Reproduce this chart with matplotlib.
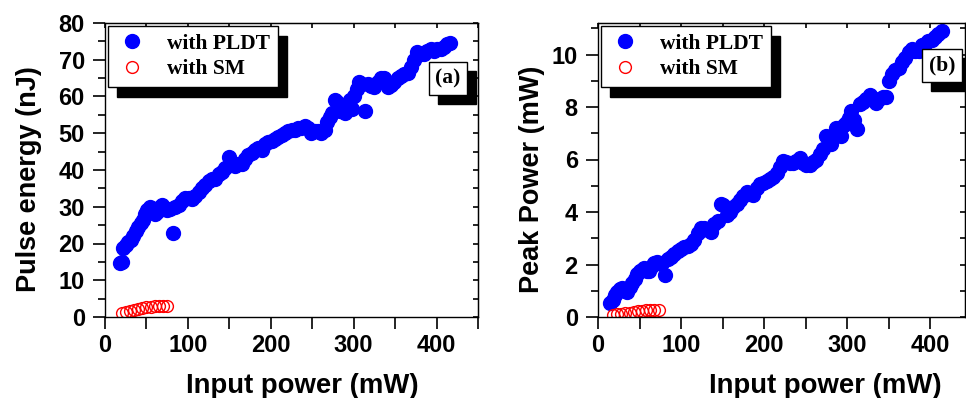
import matplotlib
matplotlib.use("Agg")
import matplotlib.pyplot as plt
from matplotlib.patches import Rectangle
from matplotlib.ticker import MultipleLocator

# 数据
pldt_x_a = [18, 21, 22, 25, 28, 31, 34, 37, 40, 43, 46, 48, 51, 54, 57, 60, 63, 66, 69, 72,
            75, 78, 82, 85, 89, 93, 97, 101, 105, 109, 113, 117, 121, 125, 129, 133, 137, 141,
            145, 150, 153, 157, 161, 165, 169, 173, 177, 181, 185, 189, 193, 197, 201, 205, 209,
            213, 217, 221, 225, 229, 233, 237, 241, 245, 249, 253, 257, 261, 265, 268, 271, 274,
            277, 280, 283, 286, 289, 292, 295, 298, 301, 304, 307, 310, 314, 317, 321, 325, 329,
            333, 337, 341, 345, 349, 353, 357, 361, 365, 369, 373, 377, 381, 385, 389, 393, 397,
            401, 405, 409, 413, 416]
pldt_y_a = [14.8, 15.0, 18.8, 19.5, 20.5, 21.0, 22.0, 23.5, 24.5, 25.5, 26.5, 28.0, 29.0, 29.8,
            29.5, 28.0, 28.5, 30.0, 30.5, 29.5, 29.0, 29.5, 22.8, 29.8, 30.5, 31.5, 32.5, 32.3,
            32.0, 33.0, 34.0, 35.0, 36.0, 37.0, 37.5, 37.5, 38.8, 39.5, 40.5, 43.5, 42.0, 41.0,
            41.5, 41.5, 43.0, 44.0, 44.5, 45.5, 46.0, 45.5, 47.0, 47.5, 48.0, 48.3, 49.0, 49.5,
            50.0, 50.5, 50.8, 51.0, 51.3, 51.5, 52.0, 51.5, 50.0, 50.5, 50.5, 50.0, 51.0, 53.0,
            54.5, 55.5, 59.0, 58.5, 56.0, 56.0, 55.5, 58.0, 59.0, 56.5, 60.0, 62.0, 64.0, 63.5,
            56.0, 63.5, 62.8, 62.5, 64.0, 65.0, 65.0, 62.5, 63.0, 64.0, 65.0, 65.5, 66.0, 66.5,
            68.0, 70.0, 72.0, 71.5, 71.5, 72.5, 73.0, 72.5, 72.8, 73.0, 73.5, 74.3, 74.5]

sm_x_a = [20, 25, 30, 35, 40, 45, 50, 55, 60, 65, 70, 75]
sm_y_a = [1.0, 1.4, 1.7, 2.0, 2.3, 2.5, 2.7, 2.8, 2.9, 3.0, 3.0, 3.0]

pldt_x_b = [15, 18, 20, 23, 26, 29, 32, 35, 38, 41, 44, 47, 50, 53, 56, 59, 62, 65, 68, 71, 74,
            77, 81, 84, 88, 92, 96, 100, 104, 108, 112, 116, 120, 124, 128, 132, 136, 140, 144,
            148, 151, 155, 159, 163, 167, 171, 175, 179, 183, 187, 191, 195, 199, 203, 207, 211,
            215, 219, 223, 227, 231, 235, 239, 243, 247, 251, 255, 259, 263, 267, 271, 275, 278,
            281, 284, 287, 290, 293, 296, 299, 302, 305, 308, 312, 315, 319, 323, 327, 331, 335,
            339, 343, 347, 350, 354, 358, 362, 366, 370, 374, 378, 382, 386, 390, 394, 398, 402,
            406, 410, 414]
pldt_y_b = [0.55, 0.65, 0.85, 0.95, 1.05, 1.1, 1.0, 0.95, 1.15, 1.3, 1.45, 1.65, 1.75, 1.8, 1.85,
            1.75, 1.75, 1.95, 2.05, 2.1, 2.05, 2.05, 1.6, 2.2, 2.3, 2.4, 2.5, 2.6, 2.65, 2.7, 2.8,
            2.95, 3.2, 3.4, 3.4, 3.3, 3.25, 3.55, 3.65, 4.3, 4.25, 3.9, 4.0, 4.2, 4.3, 4.45, 4.6,
            4.75, 4.7, 4.65, 4.9, 5.05, 5.1, 5.2, 5.25, 5.35, 5.5, 5.7, 5.95, 5.9, 5.85, 5.85,
            5.95, 6.05, 5.85, 5.8, 5.8, 5.9, 6.0, 6.2, 6.4, 6.9, 6.7, 6.6, 6.9, 7.2, 7.1, 6.9,
            7.3, 7.4, 7.6, 7.85, 7.5, 7.15, 8.1, 8.2, 8.3, 8.45, 8.3, 8.15, 8.3, 8.4, 8.4, 9.0,
            9.25, 9.4, 9.5, 9.7, 9.85, 10.1, 10.2, 10.15, 10.15, 10.35, 10.4, 10.5, 10.55, 10.65,
            10.8, 10.9]

sm_x_b = [18, 23, 28, 33, 38, 43, 48, 53, 58, 63, 68, 73]
sm_y_b = [0.08, 0.1, 0.12, 0.15, 0.17, 0.19, 0.21, 0.23, 0.25, 0.26, 0.27, 0.28]

labels = ["with PLDT", "with SM"]
xlabel = "Input power (mW)"
ylabels = ["Pulse energy (nJ)", "Peak Power (mW)"]
tags = ["(a)", "(b)"]

W, H = 966, 398
fig = plt.figure(figsize=(W / 100, H / 100), dpi=100)

sans = "Liberation Sans"
serif = "Liberation Serif"
tag_texts = []


# 像素 -> 图坐标
def px_axes(x0, y0, x1, y1):
    return [x0 / W, 1 - y1 / H, (x1 - x0) / W, (y1 - y0) / H]


def setup(ax, xmax, ymax, ymaj, ymin, ylab, tag, tagpos, xlab_x, ylab_x):
    ax.set_xlim(0, xmax)
    ax.set_ylim(0, ymax)
    ax.xaxis.set_major_locator(MultipleLocator(100))
    ax.xaxis.set_minor_locator(MultipleLocator(50))
    ax.yaxis.set_major_locator(MultipleLocator(ymaj))
    ax.yaxis.set_minor_locator(MultipleLocator(ymin))
    ax.tick_params(axis="x", which="both", direction="out", length=8.5, width=1.2, pad=4)
    ax.tick_params(axis="y", which="major", direction="out", length=8.5, width=1.2, pad=6)
    ax.tick_params(axis="y", which="minor", direction="out", length=5, width=1.2)
    for lab in ax.get_xticklabels() + ax.get_yticklabels():
        lab.set_fontfamily(sans)
        lab.set_fontweight("bold")
        lab.set_fontsize(17)
    for sp in ax.spines.values():
        sp.set_linewidth(1.0)
    # 上、右两边的内向短刻度
    top = ax.secondary_xaxis("top")
    top.xaxis.set_major_locator(MultipleLocator(50))
    top.tick_params(direction="in", length=3.5, width=1.2, labeltop=False)
    right = ax.secondary_yaxis("right")
    right.yaxis.set_major_locator(MultipleLocator(ymin))
    right.tick_params(direction="in", length=3.5, width=1.2, labelright=False)

    ax.set_ylabel(ylab, fontfamily=sans, fontweight="bold", fontsize=19.5)
    ax.set_xlabel(xlabel, fontfamily=sans, fontweight="bold", fontsize=19.8)
    ax.xaxis.set_label_coords(xlab_x, -0.19)
    ax.yaxis.set_label_coords(ylab_x, 0.47)

    leg = ax.legend(loc="upper left", bbox_to_anchor=(0.0, 1.0), borderaxespad=0.15,
                    numpoints=1, frameon=True, fancybox=False, edgecolor="black",
                    handletextpad=0.9, handlelength=1.5, labelspacing=0.25,
                    borderpad=0.35, prop={"family": serif, "weight": "bold", "size": 15.5},
                    shadow={"color": "black", "alpha": 1, "ox": 6.5, "oy": -7.2})
    leg.get_frame().set_linewidth(1.0)

    t = ax.text(tagpos[0], tagpos[1], tag, transform=ax.transAxes, ha="center", va="center",
                fontfamily=serif, fontweight="bold", fontsize=15.5, color="black",
                bbox=dict(boxstyle="square,pad=0.3", fc="white", ec="black", lw=1.0),
                zorder=6)
    tag_texts.append((ax, t))


ax1 = fig.add_axes(px_axes(105, 23, 478, 317))
ax1.plot(pldt_x_a, pldt_y_a, "o", color="blue", ms=10, mec="blue", label=labels[0])
ax1.plot(sm_x_a, sm_y_a, "o", mfc="none", mec="red", ms=8.5, mew=1.0, label=labels[1])
setup(ax1, 450, 80, 10, 5, ylabels[0], tags[0], (0.92, 0.81), 0.53, -0.17)

ax2 = fig.add_axes(px_axes(598, 23, 965, 317))
ax2.plot(pldt_x_b, pldt_y_b, "o", color="blue", ms=10, mec="blue", label=labels[0])
ax2.plot(sm_x_b, sm_y_b, "o", mfc="none", mec="red", ms=8.5, mew=1.0, label=labels[1])
setup(ax2, 442, 11.2, 2, 1, ylabels[1], tags[1], (0.937, 0.855), 0.62, -0.145)

# 标签框的黑色阴影（向右下偏移 9 px）
fig.canvas.draw()
for ax, t in tag_texts:
    bb = t.get_bbox_patch().get_window_extent()
    inv = ax.transAxes.inverted()
    (x0, y0), (x1, y1) = inv.transform([(bb.x0 + 9, bb.y0 - 9), (bb.x1 + 9, bb.y1 - 9)])
    ax.add_patch(Rectangle((x0, y0), x1 - x0, y1 - y0, transform=ax.transAxes,
                           fc="black", ec="black", zorder=5, clip_on=False))

fig.savefig("out.png", dpi=100)
